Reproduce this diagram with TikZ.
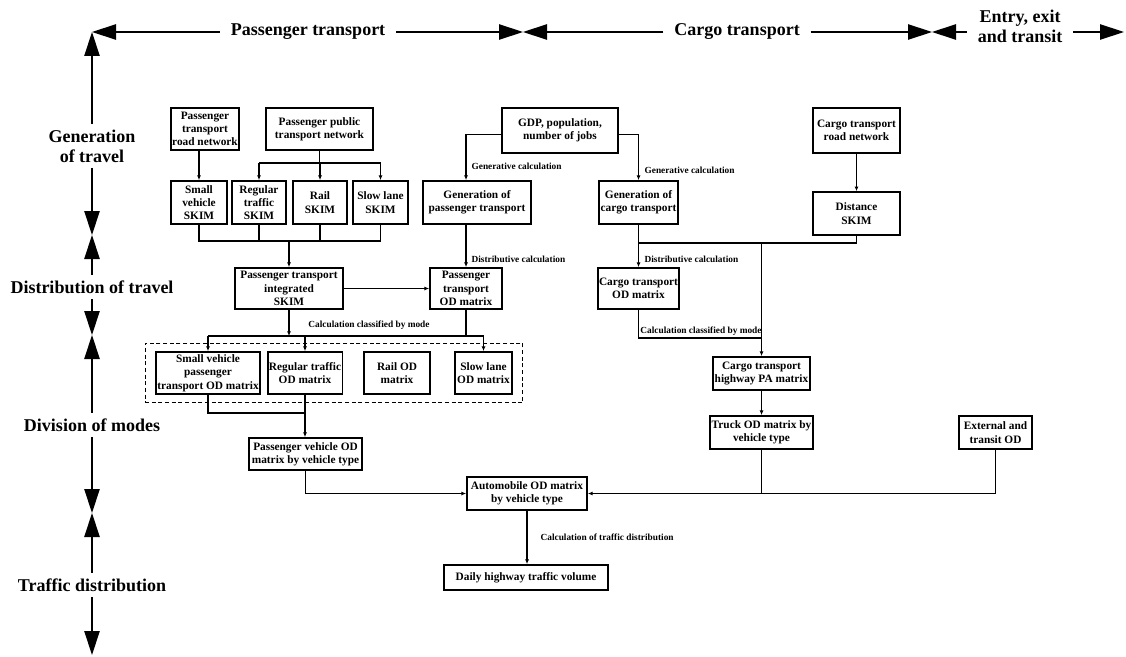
\documentclass[tikz,border=0pt]{standalone}
\usepackage{fontspec}
\setmainfont{Liberation Serif}
\usepackage{tikz}
\usetikzlibrary{arrows.meta,positioning,fit}
\tikzset{
  block/.style={rectangle, draw, line width=1.3pt, align=center, inner xsep=1pt, inner ysep=1pt,
                font=\bfseries\fontsize{8.5}{10}\selectfont},
  bsize/.style 2 args={minimum width=#1*0.75pt, minimum height=#2*0.75pt},
  dashbox/.style={draw, line width=0.9pt, dash pattern=on 3pt off 2pt},
  link/.style={line width=1pt},
  arrow/.style={link, -{Latex[length=3.5pt,width=3pt]}},
  axisarrow/.style={line width=1pt, -{Triangle[length=18pt,width=11.5pt]}},
  axislabel/.style={font=\bfseries\fontsize{13.5}{15}\selectfont, align=center, inner xsep=8pt, inner ysep=4pt},
  note/.style={font=\bfseries\fontsize{7}{8}\selectfont, inner sep=1pt},
}
\begin{document}
\begin{tikzpicture}[x=0.75pt, y=-0.75pt]
\useasboundingbox (0,0) rectangle (1126,656);

% stage axis
\coordinate (corner) at (92,32);
\coordinate (mGen) at (92,235);
\coordinate (mDist) at (92,335);
\coordinate (mDiv) at (92,513);
\coordinate (endV) at (92,655);
\coordinate (mPass) at (523,32);
\coordinate (mCargo) at (932,32);
\coordinate (endH) at (1124,32);
\node[axislabel] (axGen) at (92,146) {Generation\\of travel};
\node[axislabel] (axDist) at (92,287) {Distribution of travel};
\node[axislabel] (axDiv) at (92,425) {Division of modes};
\node[axislabel] (axTraf) at (92,585) {Traffic distribution};
\node[axislabel] (axPass) at (308,32) {Passenger transport};
\node[axislabel] (axCargo) at (737,32) {Cargo transport};
\node[axislabel] (axEntry) at (1020,26) {Entry, exit\\and transit};

\draw[axisarrow] (axGen.north) -- (corner);
\draw[axisarrow] (axGen.south) -- (mGen);
\draw[axisarrow] (axDist.north) -- (mGen);
\draw[axisarrow] (axDist.south) -- (mDist);
\draw[axisarrow] (axDiv.north) -- (mDist);
\draw[axisarrow] (axDiv.south) -- (mDiv);
\draw[axisarrow] (axTraf.north) -- (mDiv);
\draw[axisarrow] (axTraf.south) -- (endV);
\draw[axisarrow] (axPass.west) -- (corner);
\draw[axisarrow] (axPass.east) -- (mPass);
\draw[axisarrow] (axCargo.west) -- (mPass);
\draw[axisarrow] (axCargo.east) -- (mCargo);
\draw[axisarrow] (axEntry.west |- corner) -- (mCargo);
\draw[axisarrow] (axEntry.east |- corner) -- (endH);

% generation
\node[block, bsize={68}{42}] (roadP) at (205,129) {Passenger\\transport\\road network};
\node[block, bsize={107}{42}] (pubNet) at (319.5,129) {Passenger public\\transport network};
\node[block, bsize={116}{45}] (gdp) at (560,130.5) {GDP, population,\\number of jobs};
\node[block, bsize={87}{45}] (roadC) at (856.5,130.5) {Cargo transport\\road network};
\node[block, bsize={56}{43}] (skSmall) at (199,202.5) {Small\\vehicle\\SKIM};
\node[block, bsize={54}{43}] (skReg) at (259,202.5) {Regular\\traffic\\SKIM};
\node[block, bsize={54}{43}] (skRail) at (320,202.5) {Rail\\SKIM};
\node[block, bsize={55}{43}] (skSlow) at (380.5,202.5) {Slow lane\\SKIM};
\node[block, bsize={108}{43}] (genP) at (477,202.5) {Generation of\\passenger transport};
\node[block, bsize={79}{43}] (genC) at (638.5,202.5) {Generation of\\cargo transport};
\node[block, bsize={87}{43}, below=28pt of roadC] (dist) {Distance\\SKIM};

% distribution
\node[block, bsize={108}{41}] (intSkim) at (289,288.5) {Passenger transport\\integrated\\SKIM};
\node[block, bsize={72}{41}] (odP) at (466,288.5) {Passenger\\transport\\OD matrix};
\node[block, bsize={81}{41}] (cargoOD) at (638.5,288.5) {Cargo transport\\OD matrix};

% modes
\node[block, bsize={102}{42}] (smOD) at (208,373) {Small vehicle\\passenger\\transport OD matrix};
\node[block, bsize={74}{42}] (regOD) at (305,373) {Regular traffic\\OD matrix};
\node[block, bsize={66}{42}] (railOD) at (397,373) {Rail OD\\matrix};
\node[block, bsize={57}{42}] (slowOD) at (483.5,373) {Slow lane\\OD matrix};
\node[dashbox, fit=(smOD)(slowOD), inner xsep=7.5pt, inner ysep=6pt] (modeGroup) {};
\node[block, bsize={97}{33}] (paOD) at (761.5,373.5) {Cargo transport\\highway PA matrix};
\node[block, bsize={113}{32}] (pvOD) at (305.5,454) {Passenger vehicle OD\\matrix by vehicle type};
\node[block, bsize={103}{33}] (truck) at (761.5,432.5) {Truck OD matrix by\\vehicle type};
\node[block, bsize={73}{33}] (ext) at (995.5,432.5) {External and\\transit OD};
\node[block, bsize={120}{33}] (auto) at (527,493.5) {Automobile OD matrix\\by vehicle type};
\node[block, bsize={164}{25}] (daily) at (526,577.5) {Daily highway traffic volume};

% connector labels
\node[note, anchor=west] (lblGenP) at (470,166) {Generative calculation};
\node[note, anchor=west] (lblGenC) at (643,170) {Generative calculation};
\node[note, anchor=west] (lblDistP) at (470,259) {Distributive calculation};
\node[note, anchor=west] (lblDistC) at (643,259) {Distributive calculation};
\node[note] (lblModeP) at (369,325) {Calculation classified by mode};
\node[note] (lblModeC) at (701,331) {Calculation classified by mode};
\node[note, anchor=west] (lblTraffic) at (539,537) {Calculation of traffic distribution};

\coordinate (jPub) at (319.5,163);
\coordinate (jSkim) at (289,241);
\coordinate (jDist) at (761.5,243);
\coordinate (jMode) at (289,336);
\coordinate (jCargo) at (761.5,338);
\coordinate (jSmall) at (305,413);

\draw[arrow] (roadP.south -| skSmall.north) -- (skSmall.north);
\draw[link] (pubNet.south) -- (jPub);
\draw[link] (jPub -| skReg.north) -- (jPub -| skSlow.north);
\foreach \n in {skReg,skRail,skSlow}
  \draw[arrow] (jPub -| \n.north) -- (\n.north);
\draw[link] (skSmall.south) |- (jSkim) -| (skSlow.south);
\foreach \n in {skReg,skRail}
  \draw[link] (\n.south) -- (\n.south |- jSkim);
\draw[arrow] (jSkim) -- (intSkim.north);

\draw[arrow] ([yshift=-3pt]gdp.west) -| (genP.north -| odP.north);
\draw[arrow] ([yshift=-3pt]gdp.east) -| (genC.north);
\draw[arrow] (genP.south -| odP.north) -- (odP.north);
\draw[arrow] (genC.south) -- (cargoOD.north);
\draw[arrow] (roadC) -- (dist);
\draw[link] (dist.south) |- (genC.south |- jDist);
\draw[arrow] (jDist) -- (paOD.north);
\draw[link] (cargoOD.south) |- (jCargo);

\draw[arrow] (intSkim.east) -- (odP.west);
\draw[arrow] (intSkim.south) -- (jMode);
\draw[link] (odP.south) -- (odP.south |- jMode);
\draw[link] (jMode -| smOD.north) -- (jMode -| slowOD.north);
\foreach \n in {smOD,regOD,slowOD}
  \draw[arrow] (jMode -| \n.north) -- (\n.north);
\draw[link] (smOD.south) |- (jSmall);
\draw[arrow] (regOD.south) -- (regOD.south |- pvOD.north);
\draw[arrow] (pvOD.south) |- (auto.west);

\draw[arrow] (paOD.south) -- (truck.north);
\draw[link] (truck.south) -- (truck.south |- auto.east);
\draw[arrow] (ext.south) |- (auto.east);
\draw[arrow] (auto.south) -- (auto.south |- daily.north);
\end{tikzpicture}
\end{document}
